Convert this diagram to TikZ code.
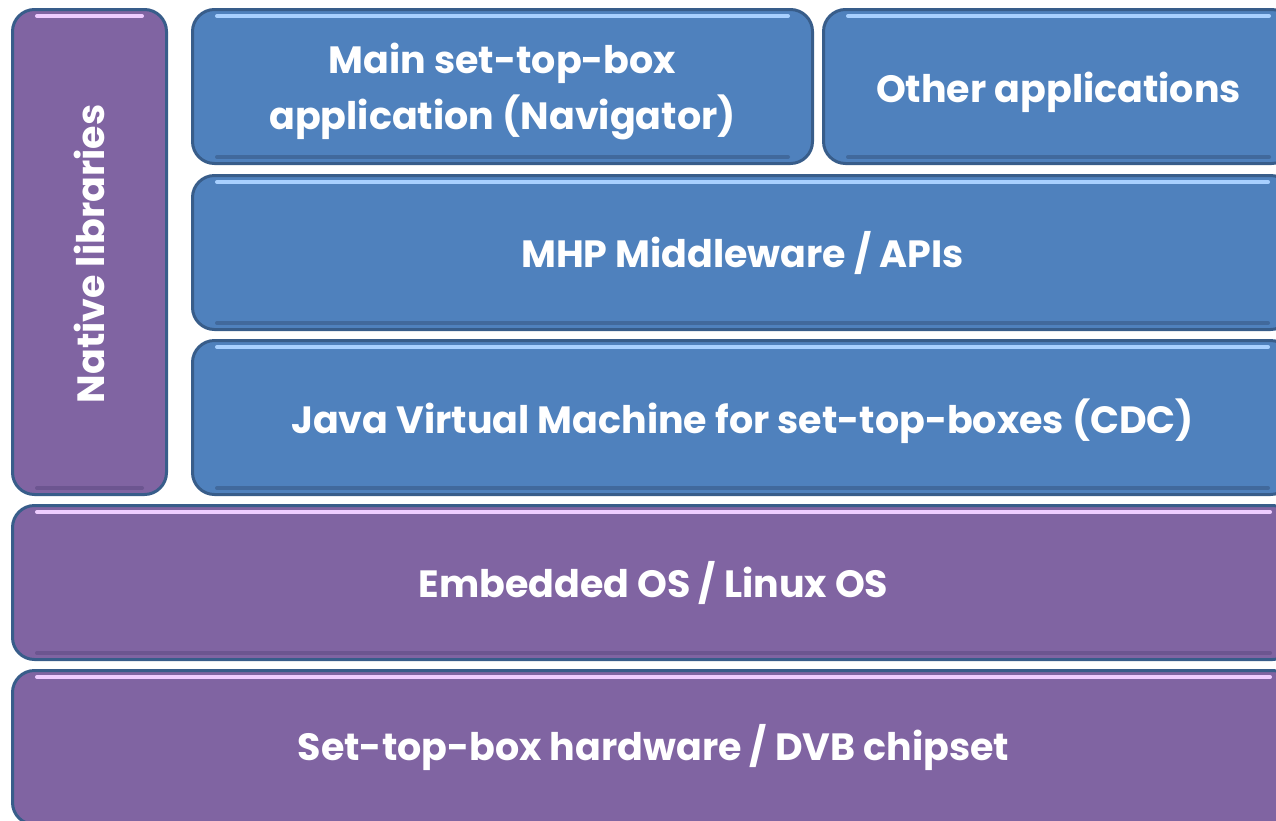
\documentclass[tikz,border=0pt]{standalone}
\usepackage{fontspec}
\setmainfont{Poppins}[UprightFont=* Bold]
\definecolor{bluefill}{HTML}{4F81BD}
\definecolor{purplefill}{HTML}{8064A2}
\definecolor{edgecol}{HTML}{385D8A}
\definecolor{bluehi}{HTML}{A8D0FF}
\definecolor{purplehi}{HTML}{EECCFF}
\definecolor{blueshade}{HTML}{41699C}
\definecolor{purpleshade}{HTML}{6C5590}
\tikzset{
  layer/.style={draw=edgecol, line width=3pt, rounded corners=22pt, text=white,
    anchor=north west, inner sep=0pt, align=center,
    font=\fontsize{38}{56}\selectfont},
  bluelayer/.style={layer, fill=bluefill},
  purplelayer/.style={layer, fill=purplefill},
  hiblue/.style={bluehi, line width=4pt, line cap=round},
  hipurple/.style={purplehi, line width=4pt, line cap=round},
  shblue/.style={blueshade, line width=4pt, line cap=round},
  shpurple/.style={purpleshade, line width=4pt, line cap=round},
}
\begin{document}
\begin{tikzpicture}[x=1pt,y=-1pt]
\useasboundingbox (0,0) rectangle (1276,820);
\clip (0,0) rectangle (1276,820);
% native libraries
\node[purplelayer, minimum width=154pt, minimum height=485pt] (nat) at (11,8) {};
\node[rotate=90, text=white, font=\fontsize{38}{40}\selectfont] (natt) at ([yshift=-2pt]nat.center) {Native libraries};
\draw[hipurple] ([xshift=26pt,yshift=-8pt]nat.north west) -- ([xshift=-26pt,yshift=-8pt]nat.north east);
\draw[shpurple] ([xshift=26pt,yshift=8pt]nat.south west) -- ([xshift=-26pt,yshift=8pt]nat.south east);
% main app
\node[bluelayer, minimum width=620pt, minimum height=154pt, text depth=-5pt] (main) at (191,8) {Main set-top-box\\application (Navigator)};
\draw[hiblue] ([xshift=26pt,yshift=-8pt]main.north west) -- ([xshift=-26pt,yshift=-8pt]main.north east);
\draw[shblue] ([xshift=26pt,yshift=8pt]main.south west) -- ([xshift=-26pt,yshift=8pt]main.south east);
% other apps
\node[bluelayer, minimum width=470pt, minimum height=154pt] (other) at (822,8) {};
\node[text=white, font=\fontsize{38}{56}\selectfont] (othert) at ([yshift=-6pt]other.center) {Other applications};
\draw[hiblue] ([xshift=26pt,yshift=-8pt]other.north west) -- ([xshift=-26pt,yshift=-8pt]other.north east);
\draw[shblue] ([xshift=26pt,yshift=8pt]other.south west) -- ([xshift=-26pt,yshift=8pt]other.south east);
% MHP
\node[bluelayer, minimum width=1100pt, minimum height=154pt] (mhp) at (191,174) {MHP Middleware / APIs};
\draw[hiblue] ([xshift=26pt,yshift=-8pt]mhp.north west) -- ([xshift=-26pt,yshift=-8pt]mhp.north east);
\draw[shblue] ([xshift=26pt,yshift=8pt]mhp.south west) -- ([xshift=-26pt,yshift=8pt]mhp.south east);
% JVM
\node[bluelayer, minimum width=1100pt, minimum height=154pt] (jvm) at (191,339) {};
\node[text=white, font=\fontsize{38}{56}\selectfont] (jvmt) at ([yshift=-4pt]jvm.center) {Java Virtual Machine for set-top-boxes (CDC)};
\draw[hiblue] ([xshift=26pt,yshift=-8pt]jvm.north west) -- ([xshift=-26pt,yshift=-8pt]jvm.north east);
\draw[shblue] ([xshift=26pt,yshift=8pt]jvm.south west) -- ([xshift=-26pt,yshift=8pt]jvm.south east);
% Embedded OS
\node[purplelayer, minimum width=1282pt, minimum height=154pt] (os) at (11,504) {Embedded OS / Linux OS};
\draw[hipurple] ([xshift=26pt,yshift=-8pt]os.north west) -- ([xshift=-26pt,yshift=-8pt]os.north east);
\draw[shpurple] ([xshift=26pt,yshift=8pt]os.south west) -- ([xshift=-26pt,yshift=8pt]os.south east);
% Hardware
\node[purplelayer, minimum width=1282pt, minimum height=154pt] (hw) at (11,669) {Set-top-box hardware / DVB chipset};
\draw[hipurple] ([xshift=26pt,yshift=-8pt]hw.north west) -- ([xshift=-26pt,yshift=-8pt]hw.north east);
\end{tikzpicture}
\end{document}
